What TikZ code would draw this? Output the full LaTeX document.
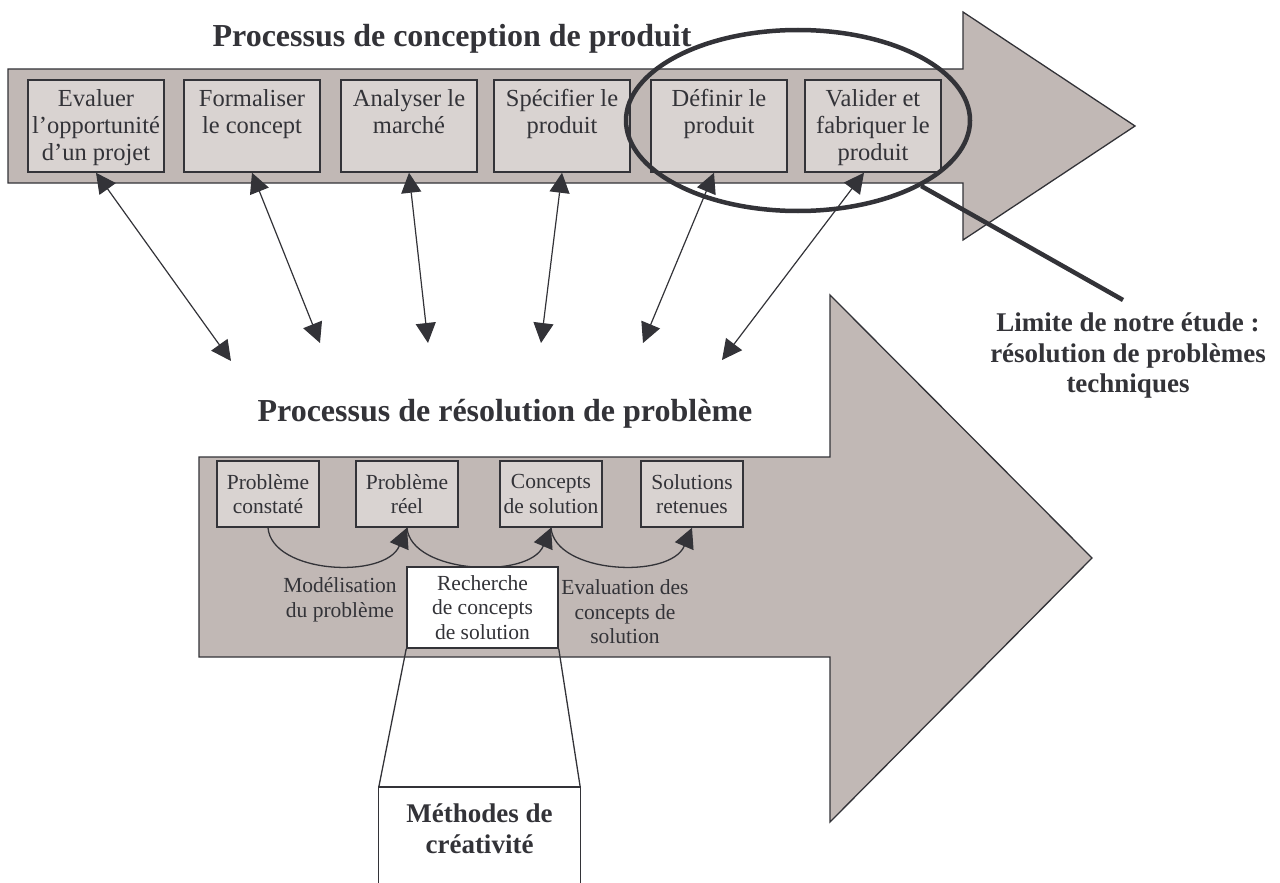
\documentclass[tikz,border=0pt]{standalone}
\usepackage{fontspec}
\setmainfont{Liberation Serif}
\usetikzlibrary{arrows.meta,shapes.geometric}

\definecolor{bandfill}{HTML}{C1B8B5}
\definecolor{stepfill}{HTML}{D9D3D1}
\definecolor{ink}{HTML}{333338}

% text of an upper step box, set from the top of the box
\newcommand\upperstep[1]{\parbox[c][92pt][t]{134pt}{\vspace*{9.5pt}\centering\fontsize{24.5}{27}\selectfont #1}}

\tikzset{
  band/.style={draw=ink, fill=bandfill, line width=1.3pt, line join=miter},
  topstep/.style={draw=ink, fill=stepfill, line width=1.5pt, minimum width=136pt,
    minimum height=92pt, inner sep=0pt, text=ink},
  lowstep/.style={draw=ink, fill=stepfill, line width=1.5pt, minimum width=102pt,
    minimum height=66pt, inner sep=0pt, align=center, text=ink,
    font=\fontsize{21.5}{24.5}\selectfont},
  searchbox/.style={draw=ink, fill=white, line width=1.5pt, minimum width=151pt,
    minimum height=81pt, inner sep=0pt, align=center, text=ink,
    font=\fontsize{21.5}{24.5}\selectfont},
  note/.style={align=center, text=ink, inner sep=0pt, font=\fontsize{21.5}{24.5}\selectfont},
  headline/.style={text=ink, inner sep=0pt, font=\bfseries\fontsize{32}{36}\selectfont},
  boldnote/.style={align=center, text=ink, inner sep=0pt, font=\bfseries\fontsize{27}{30.5}\selectfont},
  link/.style={draw=ink, line width=1.2pt,
    {Triangle[length=20pt,width=20pt]}-{Triangle[length=20pt,width=20pt]}},
  flow/.style={draw=ink, line width=1.3pt, -{Triangle[length=20pt,width=20pt]}},
  scopering/.style={ellipse, draw=ink, line width=4.5pt, minimum width=344pt,
    minimum height=181pt, inner sep=0pt},
  thin/.style={draw=ink, line width=1.3pt},
}

\begin{document}
\begin{tikzpicture}[x=1pt, y=-1pt]
\useasboundingbox (0,0) rectangle (1280,883);

% ---------- product design process ----------
\node[headline, anchor=base] (title1) at (452,47) {Processus de conception de produit};
\path[band] (8,69) -- (963,69) -- (963,12) -- (1135,126) -- (963,240)
  -- (963,183) -- (8,183) -- cycle;

\node[topstep] (t1) at (96,126)  {\upperstep{Evaluer\\l’opportunité\\d’un projet}};
\node[topstep] (t2) at (252,126) {\upperstep{Formaliser\\le concept}};
\node[topstep] (t3) at (409,126) {\upperstep{Analyser le\\marché}};
\node[topstep] (t4) at (562,126) {\upperstep{Spécifier le\\produit}};
\node[topstep] (t5) at (719,126) {\upperstep{Définir le\\produit}};
\node[topstep] (t6) at (873,126) {\upperstep{Valider et\\fabriquer le\\produit}};

% ---------- problem solving process ----------
\node[headline, anchor=base] (title2) at (505,421) {Processus de résolution de problème};
\path[band] (199,457) -- (830,457) -- (830,295) -- (1092,558) -- (830,822)
  -- (830,657) -- (199,657) -- cycle;

\node[lowstep] (p1) at (268,494) {Problème\\constaté};
\node[lowstep] (p2) at (407,494) {Problème\\réel};
\node[lowstep] (p3) at (551,494) {Concepts\\de solution};
\node[lowstep] (p4) at (692,494) {Solutions\\retenues};

\draw[flow] (p1.south) .. controls +(4,46) and +(-22,52) .. (p2.south);
\draw[flow] (p2.south) .. controls +(4,46) and +(-22,52) .. (p3.south);
\draw[flow] (p3.south) .. controls +(4,46) and +(-22,52) .. (p4.south);

\node[searchbox] (search) at (482.5,607.5) {Recherche\\de concepts\\de solution};
\node[note] (model) at (340,600) {Modélisation\\du problème};
\node[note] (assess) at (625,612) {Evaluation des\\concepts de\\solution};

% ---------- creativity methods ----------
\node[boldnote, anchor=north, minimum width=201pt, inner ysep=17pt] (methods) at (479.5,787)
  {Méthodes de\\créativité};
\draw[thin] (methods.north west) ++(0,110) -- (methods.north west)
  -- (methods.north east) -- ++(0,110);
\draw[thin] (search.south west) -- (methods.north west);
\draw[thin] (search.south east) -- (methods.north east);

% ---------- links between the two processes ----------
\coordinate (b1) at (231,361);
\coordinate (b2) at (320,343);
\coordinate (b3) at (428,343);
\coordinate (b4) at (541,343);
\coordinate (b5) at (643,343);
\coordinate (b6) at (722,360);
\draw[link] (t1.south) -- (b1);
\draw[link] (t2.south) -- (b2);
\draw[link] (t3.south) -- (b3);
\draw[link] (t4.south) -- (b4);
\draw[link] ([xshift=-5pt]t5.south) -- (b5);
\draw[link] ([xshift=-9pt]t6.south) -- (b6);

% ---------- scope of the study ----------
\node[scopering] (scope) at (798,120.5) {};
\coordinate (pointer) at (1123,300);
\draw[draw=ink, line width=4.5pt] (scope.-28.6) -- (pointer);
\node[boldnote, anchor=north] (limit) at (1128,313)
  {Limite de notre étude :\\résolution de problèmes\\techniques};
\end{tikzpicture}
\end{document}
